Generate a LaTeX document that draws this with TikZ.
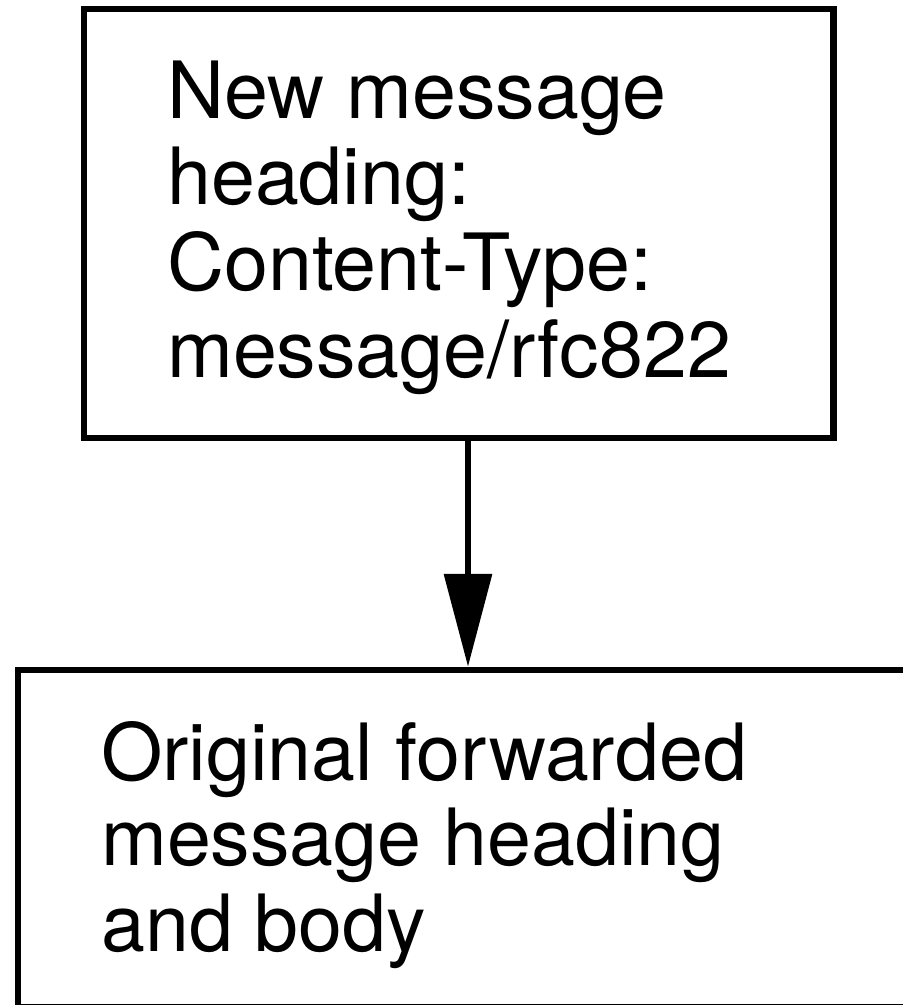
\documentclass[tikz,border=0pt]{standalone}
\usepackage{fontspec}
\setmainfont{TeX Gyre Heros}
\usetikzlibrary{arrows.meta}
\begin{document}
\begin{tikzpicture}[x=1pt,y=-1pt,
  boxstyle/.style={draw=black,line width=6.5pt,inner sep=0pt,minimum width=#1},
  txt/.style={inner sep=0pt,anchor=base west,align=left,font=\fontsize{79}{86.3}\selectfont},
  conn/.style={line width=6.5pt,-{Triangle[length=93pt,width=47pt]}}]
\useasboundingbox (0,0) rectangle (903,1005);
\clip (0,0) rectangle (903,1005);
\node[boxstyle=749.5pt,minimum height=429pt] (top) at (458.75,223.5) {};
\node[boxstyle=932pt,minimum height=337.2pt] (bot) at (484,838.6) {};
\node[txt] (toptext) at (167,377) {New message\\heading:\\Content-Type:\\message/rfc822};
\node[txt,font=\fontsize{79}{85.5}\selectfont] (bottext) at (101,951) {Original forwarded\\message heading\\and body};
\draw[conn] ([xshift=9.25pt]top.south) -- ([xshift=9.25pt]top.south |- bot.north);
\end{tikzpicture}
\end{document}
